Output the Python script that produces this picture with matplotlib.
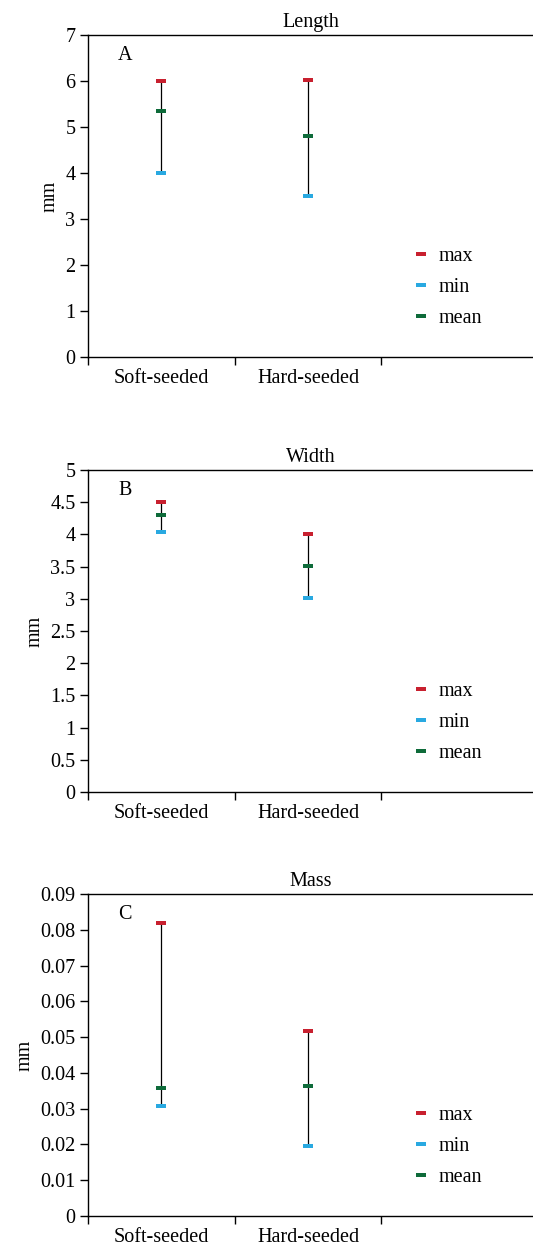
import matplotlib
matplotlib.use("Agg")
import matplotlib.pyplot as plt
from matplotlib.path import Path

plt.rcParams['font.family'] = ['Liberation Serif', 'DejaVu Serif']

categories = ["Soft-seeded", "Hard-seeded"]
titles = ["Length", "Width", "Mass"]
letters = ["A", "B", "C"]

length_max = [6.0, 6.03]
length_min = [4.0, 3.5]
length_mean = [5.35, 4.8]

width_max = [4.5, 4.01]
width_min = [4.03, 3.01]
width_mean = [4.3, 3.51]

mass_max = [0.082, 0.0518]
mass_min = [0.0308, 0.0195]
mass_mean = [0.0358, 0.0362]

length_ticks = [0, 1, 2, 3, 4, 5, 6, 7]
width_ticks = [0, 0.5, 1, 1.5, 2, 2.5, 3, 3.5, 4, 4.5, 5]
mass_ticks = [0, 0.01, 0.02, 0.03, 0.04, 0.05, 0.06, 0.07, 0.08, 0.09]
width_labels = ["0", "0.5", "1", "1.5", "2", "2.5", "3", "3.5", "4", "4.5", "5"]
length_labels = [str(t) for t in length_ticks]
mass_labels = ["0", "0.01", "0.02", "0.03", "0.04", "0.05", "0.06", "0.07", "0.08", "0.09"]

C_MAX = "#C8202F"
C_MIN = "#29A9E1"
C_MEAN = "#0E6B3A"

rect = Path([(-1, -0.48), (1, -0.48), (1, 0.48), (-1, 0.48), (-1, -0.48)],
            [Path.MOVETO, Path.LINETO, Path.LINETO, Path.LINETO, Path.CLOSEPOLY])

W, H = 533, 1247
fig = plt.figure(figsize=(W / 100, H / 100), dpi=100)

panels = [
    (length_max, length_min, length_mean, length_ticks, length_labels, 357),
    (width_max, width_min, width_mean, width_ticks, width_labels, 792),
    (mass_max, mass_min, mass_mean, mass_ticks, mass_labels, 1216),
]

left_px = 88
ax_w_px = W - left_px
ax_h_px = 322
slot_px = 146.7
FS = 14.5

for i, (mx, mn, me, ticks, tlabels, bottom_px) in enumerate(panels):
    ax = fig.add_axes([left_px / W, 1 - bottom_px / H, ax_w_px / W, ax_h_px / H])
    xs = list(range(1, len(categories) + 1))
    ax.vlines(xs, mn, mx, color="black", linewidth=0.9, zorder=2)
    ax.plot(xs, mx, linestyle="none", marker=rect, markersize=7.5,
            color=C_MAX, markeredgewidth=0, label="max", zorder=3)
    ax.plot(xs, mn, linestyle="none", marker=rect, markersize=7.5,
            color=C_MIN, markeredgewidth=0, label="min", zorder=3)
    ax.plot(xs, me, linestyle="none", marker=rect, markersize=7.5,
            color=C_MEAN, markeredgewidth=0, label="mean", zorder=3)

    ax.set_xlim(0.5, 0.5 + ax_w_px / slot_px)
    ax.set_ylim(ticks[0], ticks[-1])
    ax.set_yticks(ticks)
    ax.set_yticklabels(tlabels, fontsize=FS)
    ax.set_xticks(xs)
    ax.set_xticklabels(categories, fontsize=FS)
    ax.set_xticks([0.5, 1.5, 2.5], minor=True)
    ax.tick_params(axis="x", which="major", length=0, pad=9)
    ax.tick_params(axis="x", which="minor", length=6, width=1.0, direction="out")
    ax.tick_params(axis="y", which="major", length=6, width=1.0, direction="out", pad=3)
    ax.spines["right"].set_visible(False)
    for s in ["left", "bottom", "top"]:
        ax.spines[s].set_linewidth(1.0)
    ax.set_ylabel("mm", fontsize=FS)
    ax.set_title(titles[i], fontsize=FS, pad=6)
    ax.text(0.068, 0.935, letters[i], transform=ax.transAxes, fontsize=FS,
            ha="left", va="center")
    ax.legend(loc="center left", bbox_to_anchor=(0.735, 0.215), frameon=False,
              fontsize=FS, handlelength=0.6, handletextpad=0.58, labelspacing=0.6,
              borderpad=0, borderaxespad=0, markerscale=1.0)

fig.savefig("out.png", dpi=100)
